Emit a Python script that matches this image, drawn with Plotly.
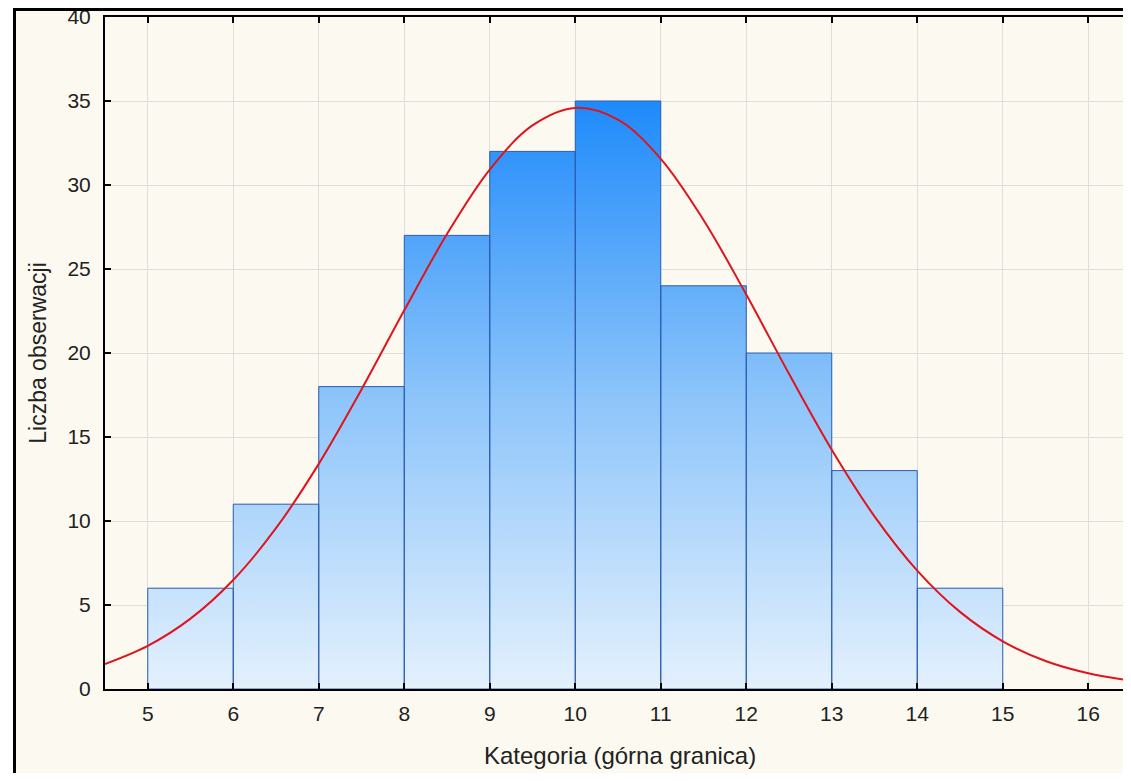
import plotly.graph_objects as go

# Histogram data (bin edges = category upper bounds)
bin_left = [5, 6, 7, 8, 9, 10, 11, 12, 13, 14]
bin_right = [6, 7, 8, 9, 10, 11, 12, 13, 14, 15]
counts = [6, 11, 18, 27, 32, 35, 24, 20, 13, 6]

# Fitted normal curve
curve_x = [4.5, 5.0, 5.5, 6.0, 6.5, 7.0, 7.5, 8.0, 8.5, 9.0, 9.5, 10.0, 10.5,
           11.0, 11.5, 12.0, 12.5, 13.0, 13.5, 14.0, 14.5, 15.0, 15.5, 16.0, 16.5]
curve_y = [1.49, 2.57, 4.19, 6.49, 9.57, 13.40, 17.83, 22.54, 27.08, 30.92, 33.55,
           34.59, 33.89, 31.56, 27.92, 23.48, 18.76, 14.24, 10.28, 7.05, 4.59,
           2.84, 1.67, 0.94, 0.50]

x_ticks = [5, 6, 7, 8, 9, 10, 11, 12, 13, 14, 15, 16]
y_ticks = [0, 5, 10, 15, 20, 25, 30, 35, 40]

x_title = "Kategoria (górna granica)"
y_title = "Liczba obserwacji"

# build bar polygons from data
px, py = [], []
for l, r, c in zip(bin_left, bin_right, counts):
    px += [l, l, r, r, l, None]
    py += [0, c, c, 0, 0, None]

fig = go.Figure()
fig.add_trace(go.Scatter(
    x=px, y=py, mode="lines", fill="toself",
    line=dict(color="#2A5CB0", width=1),
    fillgradient=dict(type="vertical", start=0, stop=35,
                      colorscale=[[0, "#E4F1FD"], [0.5, "#8CC4FA"], [1, "#1E8AFB"]]),
    hoverinfo="skip", showlegend=False))
fig.add_trace(go.Scatter(
    x=curve_x, y=curve_y, mode="lines", line=dict(color="#E0141C", width=2, shape="spline"),
    showlegend=False))

# page has an 8px body margin; figure pixel = page pixel - 8
OFF = 8
W, H = 1131 - 2 * OFF, 781 - 2 * OFF
L, R, T, B = 105 - OFF, 0, 17 - OFF, (H + OFF) - 689
pw, ph = W - L - R, H - T - B
x_end = 4.5 + pw / 85.5

def fx(p):
    return (p - OFF - L) / pw

def fy(p):
    return (H - B - (p - OFF)) / ph

shapes = [
    # cream panel
    dict(type="rect", xref="paper", yref="paper", x0=fx(15), x1=fx(1140), y0=fy(790), y1=fy(10),
         fillcolor="#FCFAF0", line=dict(width=0), layer="below"),
    # outer black frame: left and top
    dict(type="line", xref="paper", yref="paper", x0=fx(14.5), x1=fx(14.5), y0=fy(790), y1=fy(8),
         line=dict(color="black", width=3)),
    dict(type="line", xref="paper", yref="paper", x0=fx(13), x1=fx(1140), y0=fy(9.5), y1=fy(9.5),
         line=dict(color="black", width=3)),
]

annotations = [
    dict(text=x_title, xref="paper", yref="paper", x=fx(619.5), y=fy(755),
         xanchor="center", yanchor="middle", showarrow=False,
         font=dict(size=24, color="#222222")),
]

fig.update_layout(
    width=W, height=H,
    margin=dict(l=L, r=R, t=T, b=B, autoexpand=False),
    paper_bgcolor="white",
    plot_bgcolor="#FDFDFD",
    font=dict(family="Liberation Sans, Arial, sans-serif", color="#222222", size=21),
    shapes=shapes,
    annotations=annotations,
    xaxis=dict(range=[4.5, x_end], tickvals=x_ticks, ticks="inside", ticklen=6, tickcolor="black",
               tickwidth=2, showline=True, linecolor="black", linewidth=2, mirror="ticks",
               showgrid=True, gridcolor="#DEDEDE", gridwidth=1, zeroline=False,
               ticklabelstandoff=5, ticklabeloverflow="allow", automargin=False,
               tickfont=dict(size=21)),
    yaxis=dict(range=[0, 40], tickvals=y_ticks, ticks="inside", ticklen=6, tickcolor="black",
               tickwidth=2, showline=True, linecolor="black", linewidth=2, mirror=False,
               showgrid=True, gridcolor="#DEDEDE", gridwidth=1, zeroline=False,
               ticklabelstandoff=8, ticklabeloverflow="allow", automargin=False,
               title=dict(text=y_title, font=dict(size=23), standoff=14),
               tickfont=dict(size=21)),
)

fig.write_html("out.html")
